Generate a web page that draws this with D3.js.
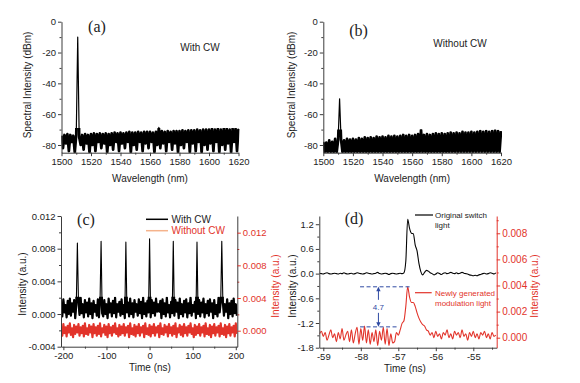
<!DOCTYPE html>
<html><head><meta charset="utf-8">
<script src="https://cdn.jsdelivr.net/npm/d3@7"></script>
<style>
html,body{margin:0;padding:0;background:#fff;}
svg{display:block;}
</style></head><body>
<svg id="chart" width="580" height="383"></svg>
<script>
// ================= DATA =================
// (a)/(b) optical spectra, dBm, sampled from 1500 nm every 1 nm
const specStart = 1500, specStep = 1;
const specWithCW = [
 -74,-82,-73.5,-79,-73,-84,-73.5,-78,-74,-85,
 -73.5,-10,-75,-80,-73.5,-83,-73,-79,-73.5,-85,
 -73,-80,-72.5,-84,-73,-78,-72.5,-82,-73,-79,
 -72.5,-85,-73,-80,-72.5,-83,-72,-78,-72.5,-84,
 -72,-79,-72.5,-82,-72,-78,-71.5,-85,-72,-80,
 -72,-83,-71.5,-78,-72,-84,-71.5,-79,-71.5,-82,
 -71.5,-78,-72,-85,-71.5,-80,-68.5,-82,-71,-79,
 -71.5,-84,-71,-78,-71.5,-83,-71,-79,-71,-85,
 -71,-80,-70.5,-82,-71,-78,-70.5,-85,-70.5,-79,
 -70.5,-84,-70,-78,-70.5,-85,-70,-80,-70,-83,
 -70,-79,-69.5,-84,-70,-78,-69.5,-85,-70,-80,
 -69.5,-83,-69.5,-79,-70,-85,-69.5,-78,-69.5,-84,
 -69.5];
const specWithoutCW = [
 -78,-85,-78.5,-85,-77,-85,-78,-85,-76,-85,
 -77,-50,-76.5,-85,-77,-85,-76,-85,-76.5,-85,
 -76,-85,-76.5,-85,-75.5,-85,-76,-85,-75,-85,
 -75.5,-85,-75,-85,-75.5,-85,-74.5,-85,-75,-85,
 -74.5,-85,-75,-85,-74,-85,-74.5,-85,-74,-85,
 -74.5,-85,-74,-85,-73.5,-85,-74,-85,-73.5,-85,
 -74,-85,-73.5,-85,-73,-85,-70,-85,-73.5,-85,
 -73,-85,-73.5,-85,-73,-85,-72.5,-85,-73,-85,
 -72.5,-85,-73,-85,-72.5,-85,-72,-85,-72.5,-85,
 -72,-85,-72.5,-85,-71.5,-85,-72,-85,-72,-85,
 -71.5,-85,-72,-85,-71.5,-85,-71,-85,-71.5,-85,
 -71,-85,-71.5,-85,-71,-85,-70.5,-85,-71,-85,
 -71];
const wlTicks = [1500,1520,1540,1560,1580,1600,1620];
const wlMinor = [1510,1530,1550,1570,1590,1610];
const dbmTicks = [-80,-60,-40,-20,0];
const dbmMinor = [-70,-50,-30,-10];

// (c) time traces, sampled from -205 ns every 2.5 ns, values in units of 1e-4 a.u.
const traceStart = -205, traceStep = 2.5, traceUnit = 1e-4;
const traceWithCW = [
 14,-3,18,2,11,-4,16,0,19,-2,
 13,3,17,-5,12,87,15,-1,20,1,
 12,-4,17,2,14,-3,19,0,13,-5,
 16,3,11,-2,18,-4,14,89,1,-3,
 17,0,12,-5,19,2,13,-3,16,1,
 20,-4,12,3,15,-2,18,0,11,-5,
 88,2,14,-3,19,0,13,-4,17,3,
 12,-2,18,1,15,-5,20,0,13,-3,
 16,2,92,-4,17,1,14,-2,19,3,
 12,3,16,-5,18,0,13,-3,20,2,
 11,-4,15,1,89,-2,17,3,14,-5,
 19,0,12,-3,16,2,18,-4,13,1,
 20,-2,11,3,15,-5,88,0,17,-3,
 14,2,19,-4,12,1,16,-2,18,3,
 13,-5,17,0,11,-3,20,2,14,89,
 15,-2,12,3,18,-5,13,0,16,-3,
 19,1,12,-2];
const traceWithoutCW = [
 5,-6,8,-3,4,-7,6,-2,9,-5,
 3,-8,7,-4,5,-2,8,-6,4,-3,
 6,-7,9,-4,3,-5,7,-2,5,-8,
 8,-3,4,-6,6,-4,9,-7,3,-2,
 7,-5,5,-8,8,-3,4,-6,6,-2,
 9,-4,3,-7,7,-5,5,-3,8,-6,
 4,-2,6,-8,9,-4,3,-5,7,-7,
 5,-3,8,-6,4,-2,6,-8,9,-4,
 3,-5,7,-7,5,-3,8,-6,4,-2,
 6,-8,9,-4,3,-5,7,-2,5,-7,
 8,-3,4,-6,6,-4,9,-8,3,-2,
 7,-5,5,-7,8,-3,4,-6,6,-2,
 9,-4,3,-8,7,-5,5,-3,8,-6,
 4,-2,6,-7,9,-4,3,-5,7,-8,
 5,-3,8,-6,4,-2,6,-7,9,-4,
 3,-5,7,-8,5,-3,8,-6,4,-2,
 6,-7,9,-4];
const timeTicksC = [-200,-100,0,100,200];
const timeMinorC = [-150,-50,50,150];
const intTicksCL = [-0.004,0,0.004,0.008,0.012];
const intMinorCL = [-0.002,0.002,0.006,0.010];
const intTicksCR = [0,0.004,0.008,0.012];
const intMinorCR = [0.002,0.006,0.010];
const legendC = ["With CW","Without CW"];

// (d) zoom on one pulse, sampled from -59.1 ns every 0.05 ns
const pulseStart = -59.1, pulseStep = 0.05;
const switchLight = [  // left axis, a.u.
 0.01,0.0,-0.01,0.01,0.02,0.0,-0.01,0.0,0.01,0.0,
 -0.01,0.01,0.0,0.02,0.0,-0.01,0.0,0.01,-0.01,0.0,
 0.02,0.01,0.0,-0.01,0.0,0.02,0.01,0.0,-0.01,0.0,
 0.01,0.03,0.0,-0.01,0.0,0.01,0.0,-0.02,0.0,0.01,
 0.0,-0.01,0.0,0.01,0.0,0.02,0.3,1.32,1.1,0.98,
 0.97,0.7,0.55,0.25,0.05,-0.03,0.03,0.08,0.06,0.02,
 0.0,-0.03,-0.01,0.02,0.0,-0.02,0.01,0.02,0.0,0.01,
 0.03,0.01,0.0,0.02,0.0,0.01,0.03,0.01,0.0,-0.01,
 -0.03,-0.04,-0.05,-0.04,-0.05,-0.03,-0.02,0.0,0.01,-0.01,
 0.0,0.02,0.01,-0.01,0.02];
const modUnit = 1e-4;
const modLight = [     // right axis, units of 1e-4 a.u.
 3,5,1,4,-2,2,6,0,3,-3,
 4,-1,7,-2,2,5,-3,6,-4,3,
 8,-5,7,-2,9,-4,6,-5,4,-3,
 6,-6,5,-2,8,-5,7,-6,3,-4,
 -3,4,2,6,11,13,24,39,31,27,
 27,24,19,15,12,10,9,6,5,2,
 4,0,5,1,3,-1,4,2,6,0,
 3,-1,5,2,4,0,6,1,3,-2,
 4,1,5,0,3,-1,4,2,5,0,
 3,-1,4,1,2];
const timeTicksD = [-59,-58,-57,-56,-55];
const timeMinorD = [-58.5,-57.5,-56.5,-55.5,-54.5];
const intTicksDL = [-1.8,-1.2,-0.6,0,0.6,1.2];
const intMinorDL = [-1.5,-0.9,-0.3,0.3,0.9];
const intTicksDR = [0,0.002,0.004,0.006,0.008];
const intMinorDR = [0.001,0.003,0.005,0.007,0.009];
const legendD = [["Original switch","light"],["Newly generated","modulation light"]];
// contrast annotation
const ratioTop = 0.0039, ratioBase = 0.00083, ratioLabel = "4.7";
const ratioX0 = -58.02, ratioX1Top = -56.64, ratioX1Base = -57.04, ratioArrowX = -57.53;

// ================= DRAWING =================
const FONT = '"Liberation Sans", Arial, Helvetica, sans-serif';
const SERIF = '"Liberation Serif", "Times New Roman", serif';
const INK = '#1c1c1c', AXIS = '#3c3c3c', RED = '#e2332a', ORANGE = '#f5b38c', BLUE = '#2f4aa3';
const svg = d3.select('#chart');
const minus = s => s.replace(/\u2212/g, '-');

function addAxis(g, scale, side, at, major, minor, fmt, opt = {}) {
  const gen = side === 'left' ? d3.axisLeft : side === 'right' ? d3.axisRight : d3.axisBottom;
  const tr = side === 'bottom' ? `translate(0,${at})` : `translate(${at},0)`;
  const mg = g.append('g').attr('transform', tr)
    .call(gen(scale).tickValues(minor).tickFormat('').tickSize(2).tickSizeOuter(0));
  mg.select('.domain').remove();
  mg.selectAll('line').attr('stroke', opt.tick || AXIS);
  const ag = g.append('g').attr('transform', tr)
    .call(gen(scale).tickValues(major).tickFormat(d => minus(fmt(d))).tickSize(3.5).tickSizeOuter(0).tickPadding(opt.pad || 2));
  ag.attr('font-family', null).attr('font-size', null);
  ag.select('.domain').attr('stroke', opt.line || AXIS).attr('stroke-width', 1);
  ag.selectAll('.tick line').attr('stroke', opt.tick || AXIS);
  ag.selectAll('.tick text').attr('fill', opt.text || INK).attr('font-family', FONT).attr('font-size', opt.size || 9.5);
}
function txt(x, y, s, o = {}) {
  const t = svg.append('text').attr('x', x).attr('y', y).text(s)
    .attr('font-family', o.family || FONT).attr('font-size', o.size || 10)
    .attr('fill', o.fill || INK).attr('text-anchor', o.anchor || 'middle');
  if (o.rotate) t.attr('transform', `rotate(-90,${x},${y})`).attr('dy', '0.35em');
  return t;
}
let clipN = 0;
function clip(x0, y0, x1, y1) {
  const id = 'clip' + (clipN++);
  svg.append('clipPath').attr('id', id).append('rect')
    .attr('x', x0).attr('y', y0).attr('width', x1 - x0).attr('height', y1 - y0);
  return `url(#${id})`;
}
function trace(xs, ys, vals, start, step, unit, color, w, cp, curve) {
  svg.append('path').datum(vals)
    .attr('d', d3.line().curve(curve || d3.curveLinear).x((d, i) => xs(start + step * i)).y(d => ys(d * unit)))
    .attr('fill', 'none').attr('stroke', color).attr('stroke-width', w)
    .attr('stroke-linejoin', 'round').attr('clip-path', cp);
}

// ---------- Panel (a) and (b) ----------
function spectrumPanel(left, right, vals, label, lx, ly, note, nx, ny, ylx, bandTop) {
  const top = 21.7, bottom = 152.7;
  const x = d3.scaleLinear().domain([1500, 1620]).range([left, right]);
  const y = d3.scaleLinear().domain([-85, 0]).range([bottom, top]);
  const cpAll = clip(left, top - 30, right + 1, bottom);
  const cpBand = clip(left, y(bandTop), right + 1, bottom);
  // dense noise floor: thick stroke inside the floor region, thin stroke everywhere
  trace(x, y, vals, specStart, specStep, 1, '#000', 2.7, cpBand);
  trace(x, y, vals, specStart, specStep, 1, '#000', 1.2, cpAll);
  const g = svg.append('g');
  addAxis(g, y, 'left', left, dbmTicks, dbmMinor, d3.format('d'));
  addAxis(g, x, 'bottom', bottom, wlTicks, wlMinor, d3.format('d'));
  txt(lx, ly, label, { family: SERIF, size: 16 });
  txt(nx, ny, note, { size: 10 });
  txt(ylx, 85, 'Spectral Intensity (dBm)', { rotate: true, size: 10 });
  txt((left + right) / 2, 181.5, 'Wavelength (nm)', { size: 10 });
}
spectrumPanel(61.5, 238.5, specWithCW, '(a)', 97, 31.5, 'With CW', 200, 51, 27.7, -69);
spectrumPanel(323.3, 501, specWithoutCW, '(b)', 358.5, 35.5, 'Without CW', 460, 47, 291, -70);

// ---------- Panel (c) ----------
{
  const left = 61, right = 237.3, top = 216, bottom = 346.7;
  const x = d3.scaleLinear().domain([-205.5, 203.5]).range([left, right]);
  const yL = d3.scaleLinear().domain([-0.004, 0.012]).range([bottom, top]);
  const yR = d3.scaleLinear().domain([-0.00196, 0.01404]).range([bottom, top]);
  const cp = clip(left, top, right, bottom);
  const cpBand = clip(left, yL(0.0021), right, bottom);
  trace(x, yR, traceWithoutCW, traceStart, traceStep, traceUnit, RED, 2.2, cp);
  trace(x, yL, traceWithCW, traceStart, traceStep, traceUnit, '#000', 2.2, cpBand);
  trace(x, yL, traceWithCW, traceStart, traceStep, traceUnit, '#000', 1.1, cp);
  const g = svg.append('g');
  const f3 = d3.format('.3f');
  addAxis(g, yL, 'left', left, intTicksCL, intMinorCL, f3);
  addAxis(g, yR, 'right', right, intTicksCR, intMinorCR, f3, { text: RED, tick: RED });
  addAxis(g, x, 'bottom', bottom, timeTicksC, timeMinorC, d3.format('d'));
  txt(86, 225, '(c)', { family: SERIF, size: 16 });
  // legend
  svg.append('line').attr('x1', 146).attr('x2', 168).attr('y1', 219.3).attr('y2', 219.3).attr('stroke', '#000').attr('stroke-width', 1.5);
  txt(171.5, 222.8, legendC[0], { anchor: 'start', size: 10 });
  svg.append('line').attr('x1', 146).attr('x2', 168).attr('y1', 230.7).attr('y2', 230.7).attr('stroke', ORANGE).attr('stroke-width', 1.5);
  txt(171.5, 234.2, legendC[1], { anchor: 'start', size: 10, fill: RED });
  txt(22, 284, 'Intensity (a.u.)', { rotate: true, size: 10 });
  txt(275, 286, 'Intensity (a.u.)', { rotate: true, size: 10, fill: RED });
  txt(150, 371, 'Time (ns)', { size: 10 });
}

// ---------- Panel (d) ----------
{
  const left = 319.3, right = 496.7, top = 216, bottom = 347.7;
  const x = d3.scaleLinear().domain([-59.107, -54.376]).range([left, right]);
  const yL = d3.scaleLinear().domain([-1.8, 1.4]).range([bottom, top]);
  const yR = d3.scaleLinear().domain([-0.000766, 0.009325]).range([bottom, top]);
  const cp = clip(left, top, right, bottom);
  trace(x, yL, switchLight, pulseStart, pulseStep, 1, '#050505', 1.1, cp, d3.curveMonotoneX);
  trace(x, yR, modLight, pulseStart, pulseStep, modUnit, RED, 1.1, cp, d3.curveMonotoneX);
  const g = svg.append('g');
  addAxis(g, yL, 'left', left, intTicksDL, intMinorDL, d3.format('.1f'));
  addAxis(g, yR, 'right', right, intTicksDR, intMinorDR, d3.format('.3f'), { text: RED, tick: RED, line: RED, size: 10 });
  addAxis(g, x, 'bottom', bottom, timeTicksD, timeMinorD, d3.format('d'));
  txt(354, 224, '(d)', { family: SERIF, size: 16 });
  // legend
  svg.append('line').attr('x1', 415).attr('x2', 433).attr('y1', 215).attr('y2', 215).attr('stroke', '#000').attr('stroke-width', 1.2);
  txt(435, 218, legendD[0][0], { anchor: 'start', size: 8 });
  txt(435, 227.5, legendD[0][1], { anchor: 'start', size: 8 });
  svg.append('line').attr('x1', 415).attr('x2', 431.7).attr('y1', 292.7).attr('y2', 292.7).attr('stroke', RED).attr('stroke-width', 1.2);
  txt(435, 296, legendD[1][0], { anchor: 'start', size: 8, fill: RED });
  txt(435, 305.7, legendD[1][1], { anchor: 'start', size: 8, fill: RED });
  // contrast annotation
  const yt = yR(ratioTop), yb = yR(ratioBase), xa = x(ratioArrowX);
  svg.append('line').attr('x1', x(ratioX0)).attr('x2', x(ratioX1Top)).attr('y1', yt).attr('y2', yt)
    .attr('stroke', BLUE).attr('stroke-width', 1).attr('stroke-dasharray', '4,2.5');
  svg.append('line').attr('x1', x(ratioX0)).attr('x2', x(ratioX1Base)).attr('y1', yb).attr('y2', yb)
    .attr('stroke', BLUE).attr('stroke-width', 1).attr('stroke-dasharray', '4,2.5');
  const ym = (yt + yb) / 2;
  svg.append('line').attr('x1', xa).attr('x2', xa).attr('y1', yt + 3).attr('y2', ym - 7).attr('stroke', BLUE).attr('stroke-width', 1);
  svg.append('line').attr('x1', xa).attr('x2', xa).attr('y1', ym + 6).attr('y2', yb - 3).attr('stroke', BLUE).attr('stroke-width', 1);
  svg.append('path').attr('d', `M${xa},${yt}L${xa - 2.2},${yt + 4.5}L${xa + 2.2},${yt + 4.5}Z`).attr('fill', BLUE);
  svg.append('path').attr('d', `M${xa},${yb}L${xa - 2.2},${yb - 4.5}L${xa + 2.2},${yb - 4.5}Z`).attr('fill', BLUE);
  txt(xa, ym + 3, ratioLabel, { size: 8, fill: BLUE });
  txt(292.5, 286, 'Intensity (a.u.)', { rotate: true, size: 10 });
  txt(534, 286, 'Intensity (a.u.)', { rotate: true, size: 10, fill: RED });
  txt(405, 371.5, 'Time (ns)', { size: 10 });
}
</script>
</body></html>
